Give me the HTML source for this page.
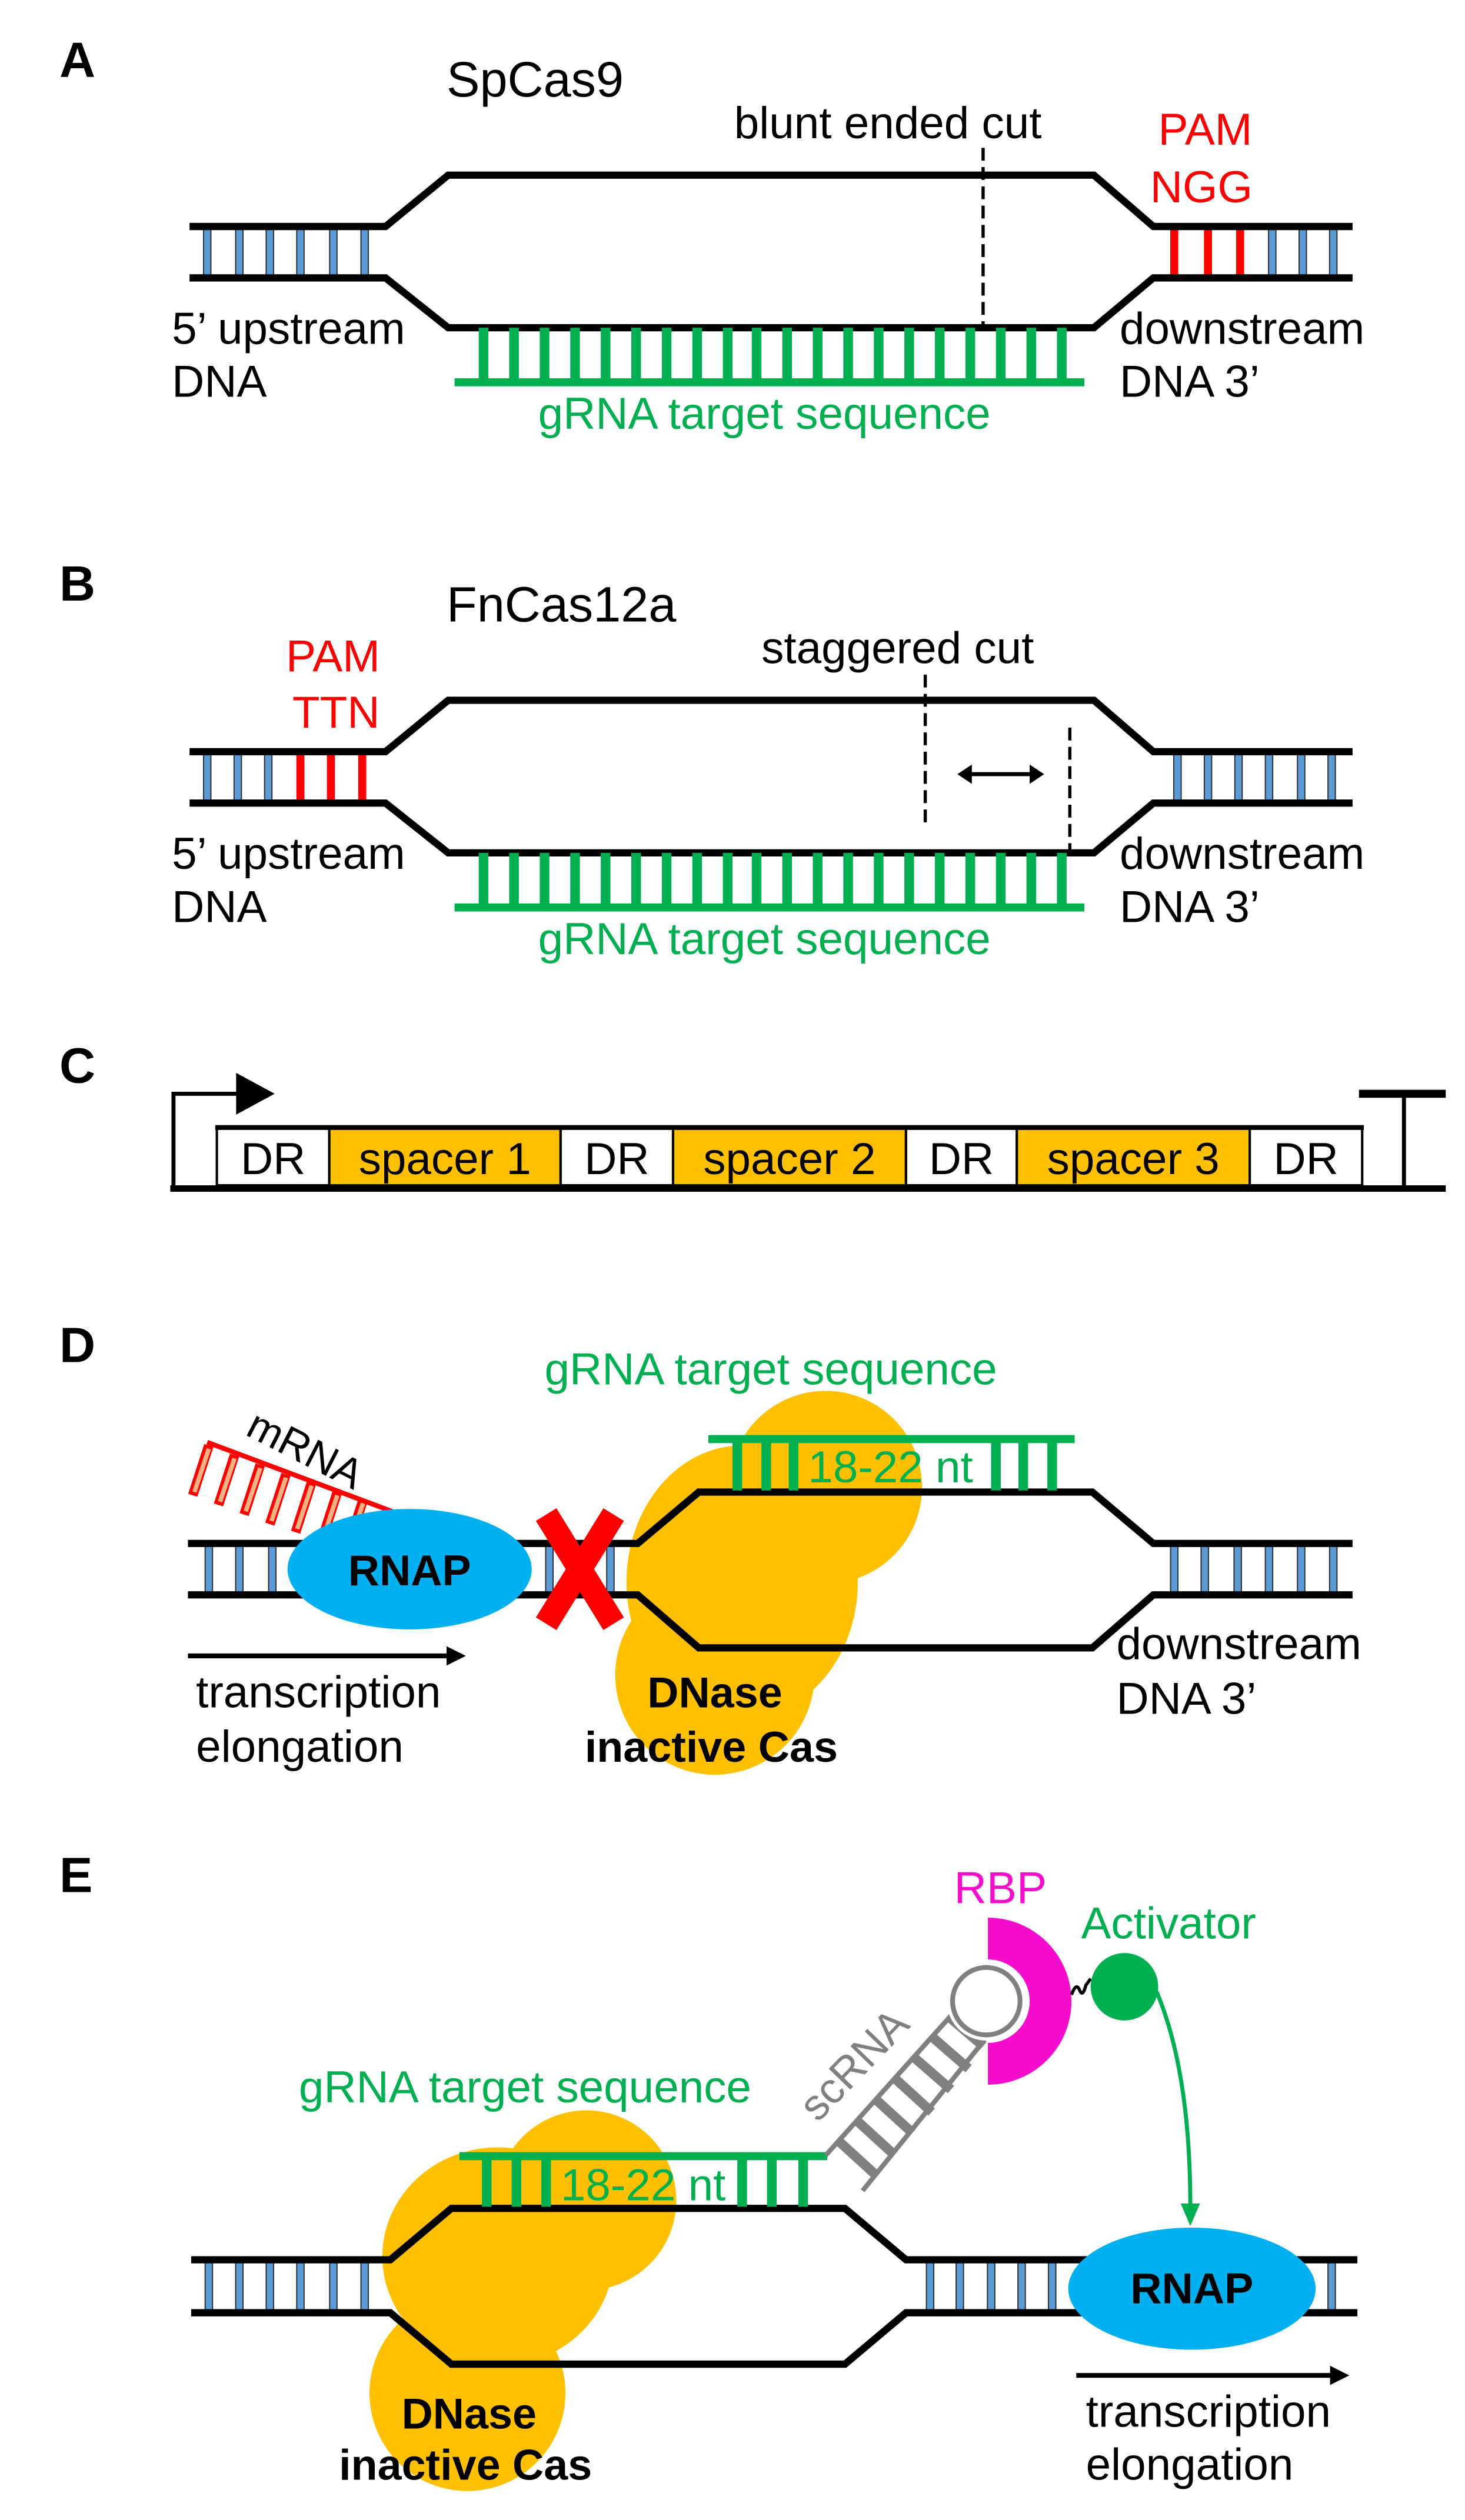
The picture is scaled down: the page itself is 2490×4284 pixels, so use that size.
<!DOCTYPE html>
<html><head><meta charset="utf-8"><style>
html,body{margin:0;padding:0;background:#fff;}
svg{display:block;}
text{font-family:"Liberation Sans",Arial,sans-serif;}
</style></head><body>
<svg xmlns="http://www.w3.org/2000/svg" xmlns:xlink="http://www.w3.org/1999/xlink" width="2490" height="4284" viewBox="0 0 912 1569">
<defs>
<g id="gbars" fill="#00b050">
<rect x="298" y="204" width="6" height="34"/><rect x="317" y="204" width="6" height="34"/><rect x="336" y="204" width="6" height="34"/><rect x="355" y="204" width="6" height="34"/><rect x="374" y="204" width="6" height="34"/><rect x="393" y="204" width="6" height="34"/><rect x="412" y="204" width="6" height="34"/><rect x="431" y="204" width="6" height="34"/><rect x="450" y="204" width="6" height="34"/><rect x="468" y="204" width="6" height="34"/><rect x="487" y="204" width="6" height="34"/><rect x="506" y="204" width="6" height="34"/><rect x="525" y="204" width="6" height="34"/><rect x="544" y="204" width="6" height="34"/><rect x="563" y="204" width="6" height="34"/><rect x="582" y="204" width="6" height="34"/><rect x="601" y="204" width="6" height="34"/><rect x="620" y="204" width="6" height="34"/><rect x="639" y="204" width="6" height="34"/><rect x="658" y="204" width="6" height="34"/>
<rect x="283" y="235.5" width="392" height="5"/>
</g>
<rect id="bb" x="-2.3" y="0" width="4.6" height="30" fill="#5b9bd5" stroke="#2a2a2a" stroke-width="0.7"/>
<rect id="rb" x="-2.5" y="0" width="5" height="30" fill="#ff0000"/>
</defs>

<!-- ============ A ============ -->
<text x="37" y="48" font-size="31" font-weight="bold">A</text>
<text x="278" y="60" font-size="31">SpCas9</text>
<text x="457" y="86" font-size="28">blunt ended cut</text>
<text x="721" y="90" font-size="28" fill="#ff0000">PAM</text>
<text x="716" y="126" font-size="28" fill="#ff0000">NGG</text>
<g transform="translate(0,142)">
<use xlink:href="#bb" x="129"/><use xlink:href="#bb" x="149"/><use xlink:href="#bb" x="168"/><use xlink:href="#bb" x="187"/><use xlink:href="#bb" x="207.5"/><use xlink:href="#bb" x="227"/>
<use xlink:href="#rb" x="731"/><use xlink:href="#rb" x="752"/><use xlink:href="#rb" x="772"/>
<use xlink:href="#bb" x="792"/><use xlink:href="#bb" x="811"/><use xlink:href="#bb" x="830"/>
</g>
<path d="M118,141 L240,141 L279,109 L681,109 L718,141 L842,141" fill="none" stroke="#000" stroke-width="4.5"/>
<path d="M118,173 L240,173 L279,204 L681,204 L718,173 L842,173" fill="none" stroke="#000" stroke-width="4.5"/>
<use xlink:href="#gbars"/>
<line x1="612" y1="92" x2="612" y2="204" stroke="#000" stroke-width="2" stroke-dasharray="8,4"/>
<text x="107" y="214" font-size="28">5’ upstream</text>
<text x="107" y="247" font-size="28">DNA</text>
<text x="697" y="214" font-size="28">downstream</text>
<text x="697" y="247" font-size="28">DNA 3’</text>
<text x="335" y="267" font-size="28" fill="#00b050">gRNA target sequence</text>

<!-- ============ B ============ -->
<text x="37" y="374" font-size="31" font-weight="bold">B</text>
<text x="278" y="387" font-size="31">FnCas12a</text>
<text x="474" y="413" font-size="28">staggered cut</text>
<text x="178" y="418" font-size="28" fill="#ff0000">PAM</text>
<text x="182" y="453" font-size="28" fill="#ff0000">TTN</text>
<g transform="translate(0,469)">
<use xlink:href="#bb" x="129"/><use xlink:href="#bb" x="148"/><use xlink:href="#bb" x="167"/>
<use xlink:href="#rb" x="187"/><use xlink:href="#rb" x="206"/><use xlink:href="#rb" x="225.5"/>
<use xlink:href="#bb" x="733"/><use xlink:href="#bb" x="752"/><use xlink:href="#bb" x="771"/><use xlink:href="#bb" x="790"/><use xlink:href="#bb" x="810"/><use xlink:href="#bb" x="829"/>
</g>
<path d="M118,468 L240,468 L279,436 L681,436 L718,468 L842,468" fill="none" stroke="#000" stroke-width="4.5"/>
<path d="M118,500 L240,500 L279,531 L681,531 L718,500 L842,500" fill="none" stroke="#000" stroke-width="4.5"/>
<use xlink:href="#gbars" y="327"/>
<line x1="576" y1="420" x2="576" y2="512" stroke="#000" stroke-width="2" stroke-dasharray="8,4"/>
<line x1="666" y1="453" x2="666" y2="531" stroke="#000" stroke-width="2" stroke-dasharray="8,4"/>
<line x1="603" y1="482" x2="643" y2="482" stroke="#000" stroke-width="2.5"/>
<polygon points="596,482 605,476 605,488" fill="#000"/>
<polygon points="650,482 641,476 641,488" fill="#000"/>
<text x="107" y="541" font-size="28">5’ upstream</text>
<text x="107" y="574" font-size="28">DNA</text>
<text x="697" y="541" font-size="28">downstream</text>
<text x="697" y="574" font-size="28">DNA 3’</text>
<text x="335" y="594" font-size="28" fill="#00b050">gRNA target sequence</text>

<!-- ============ C ============ -->
<text x="37" y="674" font-size="31" font-weight="bold">C</text>
<polyline points="108,740 108,681 150,681" fill="none" stroke="#000" stroke-width="2.5"/>
<polygon points="147,668 171,681 147,694" fill="#000"/>
<rect x="135" y="702" width="70" height="36" fill="#fff" stroke="#000" stroke-width="1.5"/>
<rect x="205" y="702" width="144" height="36" fill="#ffc000" stroke="#000" stroke-width="1.5"/>
<rect x="349" y="702" width="70" height="36" fill="#fff" stroke="#000" stroke-width="1.5"/>
<rect x="419" y="702" width="145" height="36" fill="#ffc000" stroke="#000" stroke-width="1.5"/>
<rect x="564" y="702" width="69" height="36" fill="#fff" stroke="#000" stroke-width="1.5"/>
<rect x="633" y="702" width="145" height="36" fill="#ffc000" stroke="#000" stroke-width="1.5"/>
<rect x="778" y="702" width="70" height="36" fill="#fff" stroke="#000" stroke-width="1.5"/>
<line x1="134" y1="702" x2="849" y2="702" stroke="#000" stroke-width="3"/>
<line x1="106" y1="740" x2="900" y2="740" stroke="#000" stroke-width="4"/>
<line x1="874" y1="681" x2="874" y2="740" stroke="#000" stroke-width="2.5"/>
<line x1="846" y1="681" x2="900" y2="681" stroke="#000" stroke-width="5"/>
<g font-size="28" text-anchor="middle">
<text x="170" y="731">DR</text><text x="277" y="731">spacer 1</text>
<text x="384" y="731">DR</text><text x="491.5" y="731">spacer 2</text>
<text x="598.5" y="731">DR</text><text x="705.5" y="731">spacer 3</text>
<text x="813" y="731">DR</text>
</g>

<!-- ============ D ============ -->
<text x="37" y="848" font-size="31" font-weight="bold">D</text>
<text x="339" y="862" font-size="28" fill="#00b050">gRNA target sequence</text>
<g fill="#ffc000">
<circle cx="514" cy="926" r="60"/>
<ellipse cx="462" cy="985" rx="72" ry="85"/>
<circle cx="445" cy="1043" r="62"/>
</g>
<g transform="translate(0,962)">
<use xlink:href="#bb" x="130"/><use xlink:href="#bb" x="149"/><use xlink:href="#bb" x="169.5"/>
<use xlink:href="#bb" x="342"/><use xlink:href="#bb" x="380"/>
<use xlink:href="#bb" x="731"/><use xlink:href="#bb" x="750"/><use xlink:href="#bb" x="770.5"/><use xlink:href="#bb" x="790"/><use xlink:href="#bb" x="810"/><use xlink:href="#bb" x="830"/>
</g>
<path d="M117,961 L397,961 L435,929 L680,929 L718,961 L842,961" fill="none" stroke="#000" stroke-width="4.5"/>
<path d="M117,993 L397,993 L435,1026 L680,1026 L718,993 L842,993" fill="none" stroke="#000" stroke-width="4.5"/>
<g fill="#00b050">
<rect x="441" y="893.5" width="228" height="5"/>
<rect x="456" y="896" width="6" height="32"/><rect x="474" y="896" width="6" height="32"/><rect x="491" y="896" width="6" height="32"/>
<rect x="617" y="896" width="6" height="32"/><rect x="634" y="896" width="6" height="32"/><rect x="652" y="896" width="6" height="32"/>
</g>
<text x="503" y="923" font-size="28" fill="#00b050">18-22 nt</text>
<!-- mRNA -->
<g stroke-linecap="butt">
<g stroke="#ff0000" stroke-width="6">
<line x1="130" y1="900" x2="120" y2="931"/><line x1="146" y1="906" x2="136" y2="937"/><line x1="162" y1="912" x2="152" y2="943"/><line x1="178" y1="918" x2="168" y2="949"/><line x1="194" y1="923" x2="184" y2="954"/><line x1="210" y1="929" x2="200" y2="960"/><line x1="226" y1="934" x2="216" y2="965"/>
</g>
<g stroke="#f4b183" stroke-width="2.8">
<line x1="130" y1="902" x2="121" y2="929"/><line x1="146" y1="908" x2="137" y2="935"/><line x1="162" y1="914" x2="153" y2="941"/><line x1="178" y1="920" x2="169" y2="947"/><line x1="194" y1="925" x2="185" y2="952"/><line x1="210" y1="931" x2="201" y2="958"/><line x1="226" y1="936" x2="217" y2="963"/>
</g>
<line x1="129" y1="898" x2="244" y2="941" stroke="#ff0000" stroke-width="3"/>
</g>
<text x="0" y="0" font-size="26" transform="translate(152,893) rotate(27)">mRNA</text>
<ellipse cx="255" cy="977" rx="76" ry="37.5" fill="#00b0f0"/>
<text x="255" y="987" font-size="27" font-weight="bold" text-anchor="middle">RNAP</text>
<line x1="340" y1="943" x2="382" y2="1011" stroke="#ff0000" stroke-width="15"/>
<line x1="382" y1="943" x2="340" y2="1011" stroke="#ff0000" stroke-width="15"/>
<line x1="117" y1="1031" x2="280" y2="1031" stroke="#000" stroke-width="3"/>
<polygon points="278,1025 290,1031 278,1037" fill="#000"/>
<text x="122" y="1063" font-size="28">transcription</text>
<text x="122" y="1097" font-size="28">elongation</text>
<text x="403" y="1063" font-size="27" font-weight="bold">DNase</text>
<text x="364" y="1097" font-size="27" font-weight="bold">inactive Cas</text>
<text x="695" y="1033" font-size="28">downstream</text>
<text x="695" y="1067" font-size="28">DNA 3’</text>

<!-- ============ E ============ -->
<text x="37" y="1178" font-size="31" font-weight="bold">E</text>
<text x="186" y="1309" font-size="28" fill="#00b050">gRNA target sequence</text>
<g fill="#ffc000">
<circle cx="365" cy="1370" r="56"/>
<ellipse cx="310" cy="1405" rx="72" ry="68"/>
<circle cx="291" cy="1490" r="61"/>
</g>
<g transform="translate(0,1408.5)">
<use xlink:href="#bb" x="130"/><use xlink:href="#bb" x="149"/><use xlink:href="#bb" x="168"/><use xlink:href="#bb" x="187"/><use xlink:href="#bb" x="207.5"/><use xlink:href="#bb" x="227"/>
<use xlink:href="#bb" x="579"/><use xlink:href="#bb" x="597.5"/><use xlink:href="#bb" x="617"/><use xlink:href="#bb" x="636"/><use xlink:href="#bb" x="655"/><use xlink:href="#bb" x="829"/>
</g>
<path d="M119,1407 L243,1407 L281,1375 L526,1375 L564,1407 L845,1407" fill="none" stroke="#000" stroke-width="4.5"/>
<path d="M119,1440 L243,1440 L281,1472 L526,1472 L564,1440 L845,1440" fill="none" stroke="#000" stroke-width="4.5"/>
<g fill="#00b050">
<rect x="286" y="1340" width="229" height="5"/>
<rect x="300" y="1342" width="6" height="32"/><rect x="318.5" y="1342" width="6" height="32"/><rect x="337" y="1342" width="6" height="32"/>
<rect x="459" y="1342" width="6" height="32"/><rect x="477.5" y="1342" width="6" height="32"/><rect x="497" y="1342" width="6" height="32"/>
</g>
<text x="349" y="1370" font-size="28" fill="#00b050">18-22 nt</text>
<!-- scRNA -->
<g stroke="#808080" fill="none">
<line x1="514" y1="1342" x2="592" y2="1255" stroke-width="3"/>
<line x1="537" y1="1364" x2="613" y2="1270" stroke-width="3"/>
<g stroke-width="6">
<line x1="522" y1="1333" x2="545" y2="1354"/>
<line x1="533" y1="1320" x2="556" y2="1341"/>
<line x1="545" y1="1307" x2="568" y2="1328"/>
<line x1="557" y1="1294" x2="580" y2="1315"/>
<line x1="569" y1="1281" x2="592" y2="1301"/>
<line x1="580" y1="1268" x2="603" y2="1288"/>
<line x1="591" y1="1256" x2="612" y2="1274"/>
</g>
</g>
<path d="M615,1194 A52,52 0 0 1 615,1298 L615,1272 A26,26 0 0 0 615,1220 Z" fill="#f50ccc"/>
<circle cx="614" cy="1246" r="21" fill="#fff" stroke="#fff" stroke-width="7"/>
<circle cx="614" cy="1246" r="21" fill="#fff" stroke="#808080" stroke-width="3"/>
<text x="0" y="0" font-size="27" fill="#808080" transform="translate(509,1322) rotate(-46)">scRNA</text>
<text x="594" y="1185" font-size="28" fill="#f50ccc">RBP</text>
<text x="673" y="1207" font-size="28" fill="#00b050">Activator</text>
<path d="M667,1242 q3,-8 5,-3 q2,5 4,-3 l3,-4" fill="none" stroke="#000" stroke-width="2"/>
<circle cx="700" cy="1237" r="21" fill="#00b050"/>
<path d="M720,1240 Q741,1290 741,1374" fill="none" stroke="#00b050" stroke-width="2.5"/>
<polygon points="735,1372 747,1372 741,1386" fill="#00b050"/>
<ellipse cx="742" cy="1425" rx="77" ry="38" fill="#00b0f0"/>
<text x="742" y="1434" font-size="27" font-weight="bold" text-anchor="middle">RNAP</text>
<line x1="670" y1="1479" x2="830" y2="1479" stroke="#000" stroke-width="3"/>
<polygon points="828,1473 840,1479 828,1485" fill="#000"/>
<text x="676" y="1511" font-size="28">transcription</text>
<text x="676" y="1544" font-size="28">elongation</text>
<text x="250" y="1512" font-size="27" font-weight="bold">DNase</text>
<text x="211" y="1544" font-size="27" font-weight="bold">inactive Cas</text>
</svg>
</body></html>
